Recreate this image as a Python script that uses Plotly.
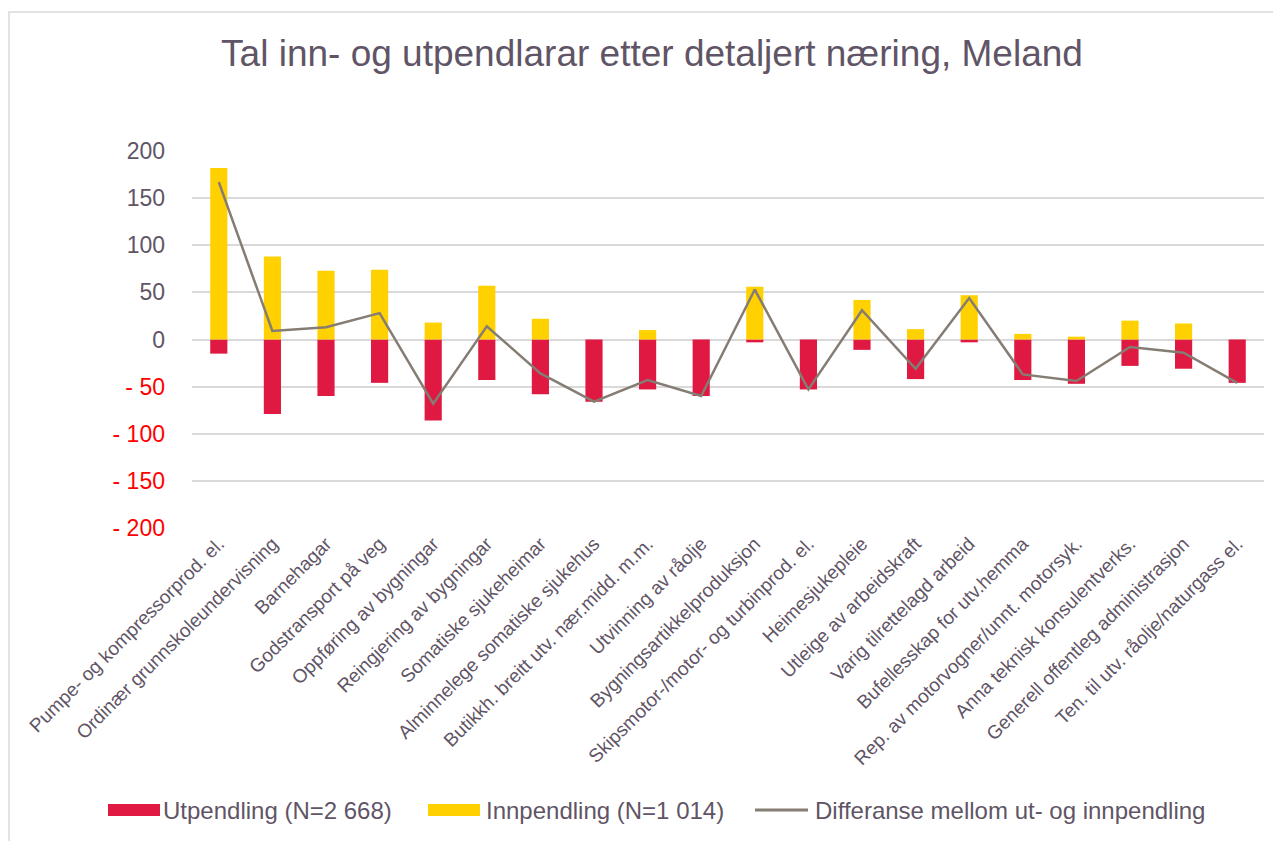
import plotly.graph_objects as go

categories = [
    "Pumpe- og kompressorprod. el.",
    "Ordinær grunnskoleundervisning",
    "Barnehagar",
    "Godstransport på veg",
    "Oppføring av bygningar",
    "Reingjering av bygningar",
    "Somatiske sjukeheimar",
    "Alminnelege somatiske sjukehus",
    "Butikkh. breitt utv. nær.midd. m.m.",
    "Utvinning av råolje",
    "Bygningsartikkelproduksjon",
    "Skipsmotor-/motor- og turbinprod. el.",
    "Heimesjukepleie",
    "Utleige av arbeidskraft",
    "Varig tilrettelagd arbeid",
    "Bufellesskap for utv.hemma",
    "Rep. av motorvogner/unnt. motorsyk.",
    "Anna teknisk konsulentverks.",
    "Generell offentleg administrasjon",
    "Ten. til utv. råolje/naturgass el.",
]

utpendling = [-15, -79, -60, -46, -86, -43, -58, -66, -53, -60,
              -3, -53, -11, -42, -3, -43, -47, -28, -31, -46]
innpendling = [182, 88, 73, 74, 18, 57, 22, 0, 10, 0,
               56, 0, 42, 11, 47, 6, 3, 20, 17, 0]
differanse = [167, 9, 13, 28, -68, 14, -36, -66, -43, -60,
              53, -53, 31, -31, 44, -37, -44, -8, -14, -46]

series_names = ["Utpendling (N=2 668)", "Innpendling (N=1 014)",
                "Differanse mellom ut- og innpendling"]
series_colors = ["#DF1942", "#FFD100", "#857c73"]

tick_vals = [200, 150, 100, 50, 0, -50, -100, -150, -200]
tick_text = ["200", "150", "100", "50", "0",
             "<span style='color:#FF0000'>- 50</span>",
             "<span style='color:#FF0000'>- 100</span>",
             "<span style='color:#FF0000'>- 150</span>",
             "<span style='color:#FF0000'>- 200</span>"]

txt_col = "#5f5566"
font_fam = "Liberation Sans, Arial, sans-serif"

fig = go.Figure()
fig.add_trace(go.Bar(
    x=categories, y=utpendling, name=series_names[0], showlegend=False,
    marker=dict(color=series_colors[0], line=dict(width=0)), width=0.32,
))
fig.add_trace(go.Bar(
    x=categories, y=innpendling, name=series_names[1], showlegend=False,
    marker=dict(color=series_colors[1], line=dict(width=0)), width=0.32,
))
fig.add_trace(go.Scatter(
    x=categories, y=differanse, name=series_names[2], showlegend=False,
    mode="lines", line=dict(color=series_colors[2], width=2.5),
))

# plot area in page pixels: x 192..1264, y 151..528 (page is offset 8px by body margin)
def px(xp):
    return (xp - 192) / 1072.0

def py(yp):
    return (528 - yp) / 377.0

# chart-area border (left and top visible in reference)
fig.add_shape(type="rect", xref="paper", yref="paper",
              x0=px(9), x1=1.3, y0=-1.2, y1=py(12),
              line=dict(color="#d9d9d9", width=1.5), fillcolor="rgba(0,0,0,0)",
              layer="below")

# legend (drawn manually to match wide swatches)
leg_y = 810
fig.add_shape(type="rect", xref="paper", yref="paper",
              x0=px(108), x1=px(160), y0=py(816), y1=py(804),
              fillcolor=series_colors[0], line=dict(width=0))
fig.add_shape(type="rect", xref="paper", yref="paper",
              x0=px(428), x1=px(480), y0=py(816), y1=py(804),
              fillcolor=series_colors[1], line=dict(width=0))
fig.add_shape(type="line", xref="paper", yref="paper",
              x0=px(755), x1=px(808), y0=py(leg_y), y1=py(leg_y),
              line=dict(color=series_colors[2], width=3))
for xpos, name in zip([161, 484, 813], series_names):
    fig.add_annotation(xref="paper", yref="paper", x=px(xpos), y=py(leg_y),
                       xanchor="left", yanchor="middle", showarrow=False,
                       text=name, font=dict(size=24, color=txt_col, family=font_fam))

fig.update_layout(
    width=1281, height=841,
    barmode="relative",
    paper_bgcolor="white", plot_bgcolor="white",
    margin=dict(l=184, r=25, t=143, b=321),
    font=dict(family=font_fam, color=txt_col),
    title=dict(
        text="Tal inn- og utpendlarar etter detaljert næring, Meland",
        font=dict(size=37, color=txt_col, family=font_fam),
        xref="container", x=644 / 1281, xanchor="center",
        yref="container", y=1 - 45 / 841, yanchor="middle",
    ),
    showlegend=False,
    xaxis=dict(
        type="category", tickangle=-45,
        tickfont=dict(size=19, color=txt_col),
        showgrid=False, showline=False, ticks="",
    ),
    yaxis=dict(
        range=[-200, 200], tickvals=tick_vals, ticktext=tick_text,
        tickfont=dict(size=23, color=txt_col),
        showgrid=True, gridcolor="#d9d9d9", gridwidth=1.5,
        zeroline=True, zerolinecolor="#d9d9d9", zerolinewidth=1.5,
        showline=False, ticks="", ticklabelstandoff=26,
    ),
)

fig.write_html("out.html")
